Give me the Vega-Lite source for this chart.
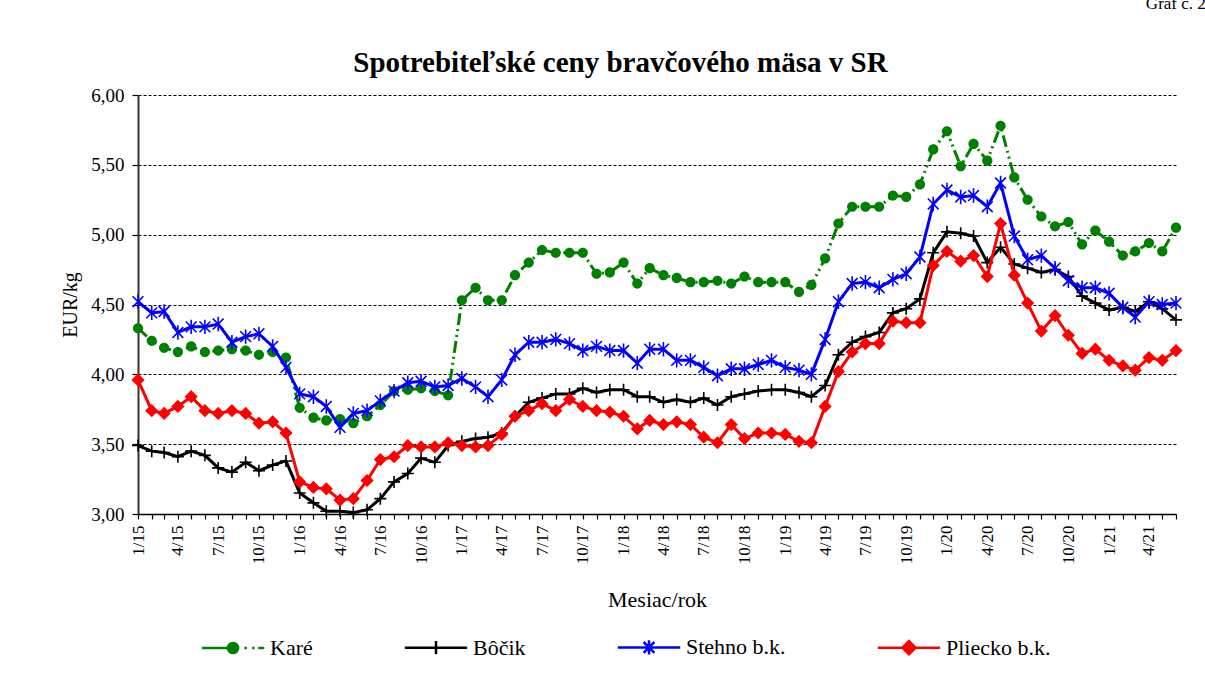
{
"$schema": "https://vega.github.io/schema/vega-lite/v6.json",
"width": 1038, "height": 419,
"autosize": {"type": "none"},
"padding": {"left": 138, "top": 95, "right": 29, "bottom": 168},
"background": "white",
"config": {"font": "Liberation Serif", "view": {"stroke": null}},
"data": {"values": [
{"d":"2015-01","s":"Karé","v":4.33},{"d":"2015-02","s":"Karé","v":4.24},{"d":"2015-03","s":"Karé","v":4.19},{"d":"2015-04","s":"Karé","v":4.16},{"d":"2015-05","s":"Karé","v":4.20},{"d":"2015-06","s":"Karé","v":4.16},{"d":"2015-07","s":"Karé","v":4.17},{"d":"2015-08","s":"Karé","v":4.18},{"d":"2015-09","s":"Karé","v":4.17},{"d":"2015-10","s":"Karé","v":4.14},{"d":"2015-11","s":"Karé","v":4.16},{"d":"2015-12","s":"Karé","v":4.12},
{"d":"2016-01","s":"Karé","v":3.76},{"d":"2016-02","s":"Karé","v":3.69},{"d":"2016-03","s":"Karé","v":3.67},{"d":"2016-04","s":"Karé","v":3.68},{"d":"2016-05","s":"Karé","v":3.65},{"d":"2016-06","s":"Karé","v":3.70},{"d":"2016-07","s":"Karé","v":3.78},{"d":"2016-08","s":"Karé","v":3.88},{"d":"2016-09","s":"Karé","v":3.89},{"d":"2016-10","s":"Karé","v":3.90},{"d":"2016-11","s":"Karé","v":3.88},{"d":"2016-12","s":"Karé","v":3.85},
{"d":"2017-01","s":"Karé","v":4.53},{"d":"2017-02","s":"Karé","v":4.62},{"d":"2017-03","s":"Karé","v":4.53},{"d":"2017-04","s":"Karé","v":4.53},{"d":"2017-05","s":"Karé","v":4.71},{"d":"2017-06","s":"Karé","v":4.80},{"d":"2017-07","s":"Karé","v":4.89},{"d":"2017-08","s":"Karé","v":4.87},{"d":"2017-09","s":"Karé","v":4.87},{"d":"2017-10","s":"Karé","v":4.87},{"d":"2017-11","s":"Karé","v":4.72},{"d":"2017-12","s":"Karé","v":4.73},
{"d":"2018-01","s":"Karé","v":4.80},{"d":"2018-02","s":"Karé","v":4.65},{"d":"2018-03","s":"Karé","v":4.76},{"d":"2018-04","s":"Karé","v":4.71},{"d":"2018-05","s":"Karé","v":4.69},{"d":"2018-06","s":"Karé","v":4.66},{"d":"2018-07","s":"Karé","v":4.66},{"d":"2018-08","s":"Karé","v":4.67},{"d":"2018-09","s":"Karé","v":4.65},{"d":"2018-10","s":"Karé","v":4.70},{"d":"2018-11","s":"Karé","v":4.66},{"d":"2018-12","s":"Karé","v":4.66},
{"d":"2019-01","s":"Karé","v":4.66},{"d":"2019-02","s":"Karé","v":4.59},{"d":"2019-03","s":"Karé","v":4.64},{"d":"2019-04","s":"Karé","v":4.83},{"d":"2019-05","s":"Karé","v":5.08},{"d":"2019-06","s":"Karé","v":5.20},{"d":"2019-07","s":"Karé","v":5.20},{"d":"2019-08","s":"Karé","v":5.20},{"d":"2019-09","s":"Karé","v":5.28},{"d":"2019-10","s":"Karé","v":5.27},{"d":"2019-11","s":"Karé","v":5.36},{"d":"2019-12","s":"Karé","v":5.61},
{"d":"2020-01","s":"Karé","v":5.74},{"d":"2020-02","s":"Karé","v":5.49},{"d":"2020-03","s":"Karé","v":5.65},{"d":"2020-04","s":"Karé","v":5.53},{"d":"2020-05","s":"Karé","v":5.78},{"d":"2020-06","s":"Karé","v":5.41},{"d":"2020-07","s":"Karé","v":5.25},{"d":"2020-08","s":"Karé","v":5.13},{"d":"2020-09","s":"Karé","v":5.06},{"d":"2020-10","s":"Karé","v":5.09},{"d":"2020-11","s":"Karé","v":4.93},{"d":"2020-12","s":"Karé","v":5.03},
{"d":"2021-01","s":"Karé","v":4.95},{"d":"2021-02","s":"Karé","v":4.85},{"d":"2021-03","s":"Karé","v":4.88},{"d":"2021-04","s":"Karé","v":4.94},{"d":"2021-05","s":"Karé","v":4.88},{"d":"2021-06","s":"Karé","v":5.05},
{"d":"2015-01","s":"Bôčik","v":3.49},{"d":"2015-02","s":"Bôčik","v":3.45},{"d":"2015-03","s":"Bôčik","v":3.44},{"d":"2015-04","s":"Bôčik","v":3.41},{"d":"2015-05","s":"Bôčik","v":3.45},{"d":"2015-06","s":"Bôčik","v":3.42},{"d":"2015-07","s":"Bôčik","v":3.33},{"d":"2015-08","s":"Bôčik","v":3.30},{"d":"2015-09","s":"Bôčik","v":3.37},{"d":"2015-10","s":"Bôčik","v":3.31},{"d":"2015-11","s":"Bôčik","v":3.35},{"d":"2015-12","s":"Bôčik","v":3.38},
{"d":"2016-01","s":"Bôčik","v":3.15},{"d":"2016-02","s":"Bôčik","v":3.08},{"d":"2016-03","s":"Bôčik","v":3.02},{"d":"2016-04","s":"Bôčik","v":3.02},{"d":"2016-05","s":"Bôčik","v":3.01},{"d":"2016-06","s":"Bôčik","v":3.03},{"d":"2016-07","s":"Bôčik","v":3.11},{"d":"2016-08","s":"Bôčik","v":3.23},{"d":"2016-09","s":"Bôčik","v":3.29},{"d":"2016-10","s":"Bôčik","v":3.40},{"d":"2016-11","s":"Bôčik","v":3.37},{"d":"2016-12","s":"Bôčik","v":3.49},
{"d":"2017-01","s":"Bôčik","v":3.52},{"d":"2017-02","s":"Bôčik","v":3.54},{"d":"2017-03","s":"Bôčik","v":3.55},{"d":"2017-04","s":"Bôčik","v":3.58},{"d":"2017-05","s":"Bôčik","v":3.70},{"d":"2017-06","s":"Bôčik","v":3.80},{"d":"2017-07","s":"Bôčik","v":3.83},{"d":"2017-08","s":"Bôčik","v":3.86},{"d":"2017-09","s":"Bôčik","v":3.86},{"d":"2017-10","s":"Bôčik","v":3.90},{"d":"2017-11","s":"Bôčik","v":3.87},{"d":"2017-12","s":"Bôčik","v":3.89},
{"d":"2018-01","s":"Bôčik","v":3.89},{"d":"2018-02","s":"Bôčik","v":3.84},{"d":"2018-03","s":"Bôčik","v":3.84},{"d":"2018-04","s":"Bôčik","v":3.80},{"d":"2018-05","s":"Bôčik","v":3.82},{"d":"2018-06","s":"Bôčik","v":3.80},{"d":"2018-07","s":"Bôčik","v":3.83},{"d":"2018-08","s":"Bôčik","v":3.78},{"d":"2018-09","s":"Bôčik","v":3.84},{"d":"2018-10","s":"Bôčik","v":3.86},{"d":"2018-11","s":"Bôčik","v":3.88},{"d":"2018-12","s":"Bôčik","v":3.89},
{"d":"2019-01","s":"Bôčik","v":3.89},{"d":"2019-02","s":"Bôčik","v":3.87},{"d":"2019-03","s":"Bôčik","v":3.84},{"d":"2019-04","s":"Bôčik","v":3.92},{"d":"2019-05","s":"Bôčik","v":4.14},{"d":"2019-06","s":"Bôčik","v":4.23},{"d":"2019-07","s":"Bôčik","v":4.27},{"d":"2019-08","s":"Bôčik","v":4.30},{"d":"2019-09","s":"Bôčik","v":4.44},{"d":"2019-10","s":"Bôčik","v":4.47},{"d":"2019-11","s":"Bôčik","v":4.54},{"d":"2019-12","s":"Bôčik","v":4.87},
{"d":"2020-01","s":"Bôčik","v":5.02},{"d":"2020-02","s":"Bôčik","v":5.01},{"d":"2020-03","s":"Bôčik","v":4.99},{"d":"2020-04","s":"Bôčik","v":4.80},{"d":"2020-05","s":"Bôčik","v":4.91},{"d":"2020-06","s":"Bôčik","v":4.79},{"d":"2020-07","s":"Bôčik","v":4.76},{"d":"2020-08","s":"Bôčik","v":4.73},{"d":"2020-09","s":"Bôčik","v":4.75},{"d":"2020-10","s":"Bôčik","v":4.70},{"d":"2020-11","s":"Bôčik","v":4.56},{"d":"2020-12","s":"Bôčik","v":4.51},
{"d":"2021-01","s":"Bôčik","v":4.46},{"d":"2021-02","s":"Bôčik","v":4.48},{"d":"2021-03","s":"Bôčik","v":4.45},{"d":"2021-04","s":"Bôčik","v":4.52},{"d":"2021-05","s":"Bôčik","v":4.47},{"d":"2021-06","s":"Bôčik","v":4.39},
{"d":"2015-01","s":"Stehno b.k.","v":4.52},{"d":"2015-02","s":"Stehno b.k.","v":4.44},{"d":"2015-03","s":"Stehno b.k.","v":4.45},{"d":"2015-04","s":"Stehno b.k.","v":4.30},{"d":"2015-05","s":"Stehno b.k.","v":4.34},{"d":"2015-06","s":"Stehno b.k.","v":4.34},{"d":"2015-07","s":"Stehno b.k.","v":4.36},{"d":"2015-08","s":"Stehno b.k.","v":4.23},{"d":"2015-09","s":"Stehno b.k.","v":4.27},{"d":"2015-10","s":"Stehno b.k.","v":4.29},{"d":"2015-11","s":"Stehno b.k.","v":4.20},{"d":"2015-12","s":"Stehno b.k.","v":4.05},
{"d":"2016-01","s":"Stehno b.k.","v":3.86},{"d":"2016-02","s":"Stehno b.k.","v":3.84},{"d":"2016-03","s":"Stehno b.k.","v":3.77},{"d":"2016-04","s":"Stehno b.k.","v":3.62},{"d":"2016-05","s":"Stehno b.k.","v":3.72},{"d":"2016-06","s":"Stehno b.k.","v":3.74},{"d":"2016-07","s":"Stehno b.k.","v":3.81},{"d":"2016-08","s":"Stehno b.k.","v":3.88},{"d":"2016-09","s":"Stehno b.k.","v":3.94},{"d":"2016-10","s":"Stehno b.k.","v":3.95},{"d":"2016-11","s":"Stehno b.k.","v":3.91},{"d":"2016-12","s":"Stehno b.k.","v":3.92},
{"d":"2017-01","s":"Stehno b.k.","v":3.97},{"d":"2017-02","s":"Stehno b.k.","v":3.91},{"d":"2017-03","s":"Stehno b.k.","v":3.84},{"d":"2017-04","s":"Stehno b.k.","v":3.96},{"d":"2017-05","s":"Stehno b.k.","v":4.14},{"d":"2017-06","s":"Stehno b.k.","v":4.23},{"d":"2017-07","s":"Stehno b.k.","v":4.23},{"d":"2017-08","s":"Stehno b.k.","v":4.25},{"d":"2017-09","s":"Stehno b.k.","v":4.22},{"d":"2017-10","s":"Stehno b.k.","v":4.17},{"d":"2017-11","s":"Stehno b.k.","v":4.20},{"d":"2017-12","s":"Stehno b.k.","v":4.17},
{"d":"2018-01","s":"Stehno b.k.","v":4.17},{"d":"2018-02","s":"Stehno b.k.","v":4.08},{"d":"2018-03","s":"Stehno b.k.","v":4.18},{"d":"2018-04","s":"Stehno b.k.","v":4.18},{"d":"2018-05","s":"Stehno b.k.","v":4.10},{"d":"2018-06","s":"Stehno b.k.","v":4.10},{"d":"2018-07","s":"Stehno b.k.","v":4.05},{"d":"2018-08","s":"Stehno b.k.","v":3.99},{"d":"2018-09","s":"Stehno b.k.","v":4.04},{"d":"2018-10","s":"Stehno b.k.","v":4.04},{"d":"2018-11","s":"Stehno b.k.","v":4.07},{"d":"2018-12","s":"Stehno b.k.","v":4.10},
{"d":"2019-01","s":"Stehno b.k.","v":4.05},{"d":"2019-02","s":"Stehno b.k.","v":4.03},{"d":"2019-03","s":"Stehno b.k.","v":4.00},{"d":"2019-04","s":"Stehno b.k.","v":4.25},{"d":"2019-05","s":"Stehno b.k.","v":4.52},{"d":"2019-06","s":"Stehno b.k.","v":4.65},{"d":"2019-07","s":"Stehno b.k.","v":4.66},{"d":"2019-08","s":"Stehno b.k.","v":4.62},{"d":"2019-09","s":"Stehno b.k.","v":4.68},{"d":"2019-10","s":"Stehno b.k.","v":4.72},{"d":"2019-11","s":"Stehno b.k.","v":4.84},{"d":"2019-12","s":"Stehno b.k.","v":5.22},
{"d":"2020-01","s":"Stehno b.k.","v":5.32},{"d":"2020-02","s":"Stehno b.k.","v":5.27},{"d":"2020-03","s":"Stehno b.k.","v":5.28},{"d":"2020-04","s":"Stehno b.k.","v":5.20},{"d":"2020-05","s":"Stehno b.k.","v":5.37},{"d":"2020-06","s":"Stehno b.k.","v":4.99},{"d":"2020-07","s":"Stehno b.k.","v":4.82},{"d":"2020-08","s":"Stehno b.k.","v":4.85},{"d":"2020-09","s":"Stehno b.k.","v":4.76},{"d":"2020-10","s":"Stehno b.k.","v":4.67},{"d":"2020-11","s":"Stehno b.k.","v":4.62},{"d":"2020-12","s":"Stehno b.k.","v":4.62},
{"d":"2021-01","s":"Stehno b.k.","v":4.58},{"d":"2021-02","s":"Stehno b.k.","v":4.48},{"d":"2021-03","s":"Stehno b.k.","v":4.41},{"d":"2021-04","s":"Stehno b.k.","v":4.52},{"d":"2021-05","s":"Stehno b.k.","v":4.50},{"d":"2021-06","s":"Stehno b.k.","v":4.51},
{"d":"2015-01","s":"Pliecko b.k.","v":3.96},{"d":"2015-02","s":"Pliecko b.k.","v":3.74},{"d":"2015-03","s":"Pliecko b.k.","v":3.72},{"d":"2015-04","s":"Pliecko b.k.","v":3.77},{"d":"2015-05","s":"Pliecko b.k.","v":3.84},{"d":"2015-06","s":"Pliecko b.k.","v":3.74},{"d":"2015-07","s":"Pliecko b.k.","v":3.72},{"d":"2015-08","s":"Pliecko b.k.","v":3.74},{"d":"2015-09","s":"Pliecko b.k.","v":3.72},{"d":"2015-10","s":"Pliecko b.k.","v":3.65},{"d":"2015-11","s":"Pliecko b.k.","v":3.66},{"d":"2015-12","s":"Pliecko b.k.","v":3.58},
{"d":"2016-01","s":"Pliecko b.k.","v":3.23},{"d":"2016-02","s":"Pliecko b.k.","v":3.19},{"d":"2016-03","s":"Pliecko b.k.","v":3.18},{"d":"2016-04","s":"Pliecko b.k.","v":3.10},{"d":"2016-05","s":"Pliecko b.k.","v":3.11},{"d":"2016-06","s":"Pliecko b.k.","v":3.24},{"d":"2016-07","s":"Pliecko b.k.","v":3.39},{"d":"2016-08","s":"Pliecko b.k.","v":3.41},{"d":"2016-09","s":"Pliecko b.k.","v":3.49},{"d":"2016-10","s":"Pliecko b.k.","v":3.48},{"d":"2016-11","s":"Pliecko b.k.","v":3.48},{"d":"2016-12","s":"Pliecko b.k.","v":3.51},
{"d":"2017-01","s":"Pliecko b.k.","v":3.49},{"d":"2017-02","s":"Pliecko b.k.","v":3.48},{"d":"2017-03","s":"Pliecko b.k.","v":3.49},{"d":"2017-04","s":"Pliecko b.k.","v":3.57},{"d":"2017-05","s":"Pliecko b.k.","v":3.70},{"d":"2017-06","s":"Pliecko b.k.","v":3.74},{"d":"2017-07","s":"Pliecko b.k.","v":3.79},{"d":"2017-08","s":"Pliecko b.k.","v":3.74},{"d":"2017-09","s":"Pliecko b.k.","v":3.82},{"d":"2017-10","s":"Pliecko b.k.","v":3.77},{"d":"2017-11","s":"Pliecko b.k.","v":3.74},{"d":"2017-12","s":"Pliecko b.k.","v":3.73},
{"d":"2018-01","s":"Pliecko b.k.","v":3.70},{"d":"2018-02","s":"Pliecko b.k.","v":3.61},{"d":"2018-03","s":"Pliecko b.k.","v":3.67},{"d":"2018-04","s":"Pliecko b.k.","v":3.64},{"d":"2018-05","s":"Pliecko b.k.","v":3.66},{"d":"2018-06","s":"Pliecko b.k.","v":3.64},{"d":"2018-07","s":"Pliecko b.k.","v":3.55},{"d":"2018-08","s":"Pliecko b.k.","v":3.51},{"d":"2018-09","s":"Pliecko b.k.","v":3.64},{"d":"2018-10","s":"Pliecko b.k.","v":3.54},{"d":"2018-11","s":"Pliecko b.k.","v":3.58},{"d":"2018-12","s":"Pliecko b.k.","v":3.58},
{"d":"2019-01","s":"Pliecko b.k.","v":3.57},{"d":"2019-02","s":"Pliecko b.k.","v":3.52},{"d":"2019-03","s":"Pliecko b.k.","v":3.51},{"d":"2019-04","s":"Pliecko b.k.","v":3.77},{"d":"2019-05","s":"Pliecko b.k.","v":4.02},{"d":"2019-06","s":"Pliecko b.k.","v":4.16},{"d":"2019-07","s":"Pliecko b.k.","v":4.22},{"d":"2019-08","s":"Pliecko b.k.","v":4.22},{"d":"2019-09","s":"Pliecko b.k.","v":4.38},{"d":"2019-10","s":"Pliecko b.k.","v":4.37},{"d":"2019-11","s":"Pliecko b.k.","v":4.37},{"d":"2019-12","s":"Pliecko b.k.","v":4.78},
{"d":"2020-01","s":"Pliecko b.k.","v":4.88},{"d":"2020-02","s":"Pliecko b.k.","v":4.81},{"d":"2020-03","s":"Pliecko b.k.","v":4.85},{"d":"2020-04","s":"Pliecko b.k.","v":4.70},{"d":"2020-05","s":"Pliecko b.k.","v":5.08},{"d":"2020-06","s":"Pliecko b.k.","v":4.71},{"d":"2020-07","s":"Pliecko b.k.","v":4.51},{"d":"2020-08","s":"Pliecko b.k.","v":4.31},{"d":"2020-09","s":"Pliecko b.k.","v":4.42},{"d":"2020-10","s":"Pliecko b.k.","v":4.28},{"d":"2020-11","s":"Pliecko b.k.","v":4.15},{"d":"2020-12","s":"Pliecko b.k.","v":4.18},
{"d":"2021-01","s":"Pliecko b.k.","v":4.10},{"d":"2021-02","s":"Pliecko b.k.","v":4.06},{"d":"2021-03","s":"Pliecko b.k.","v":4.03},{"d":"2021-04","s":"Pliecko b.k.","v":4.12},{"d":"2021-05","s":"Pliecko b.k.","v":4.10},{"d":"2021-06","s":"Pliecko b.k.","v":4.17}
]},
"layer": [
{"transform": [{"filter": "datum.s == 'Karé'"}],
 "mark": {"type": "line", "strokeWidth": 3, "strokeDash": [12, 4, 2, 4, 2, 4]},
 "encoding": {
  "x": {"field": "d", "type": "temporal", "scale": {"type": "utc", "nice": false},
        "axis": {"title": "Mesiac/rok", "titleFontSize": 22, "titleFontWeight": "normal", "titleColor": "black", "titlePadding": 26,
                 "labelAngle": 270, "labelFontSize": 17, "labelColor": "black", "labelPadding": 6, "labelOverlap": false, "labelFlush": false, "labelBound": false,
                 "labelExpr": "utcmonth(datum.value) % 3 == 0 ? utcFormat(datum.value, '%-m/%y') : ''",
                 "tickCount": {"interval": "month", "step": 1}, "tickSize": 5, "tickColor": "black", "tickWidth": 1.2,
                 "domainColor": "black", "domainWidth": 1.5, "grid": false}},
  "y": {"field": "v", "type": "quantitative", "scale": {"domain": [3, 6], "nice": false, "zero": false},
        "axis": {"title": "EUR/kg", "titleFontSize": 20, "titleFontWeight": "normal", "titleColor": "black", "titlePadding": 10,
                 "values": [3, 3.5, 4, 4.5, 5, 5.5, 6], "labelExpr": "replace(format(datum.value, '.2f'), '.', ',')",
                 "labelFontSize": 19, "labelColor": "black", "labelPadding": 8,
                 "tickSize": 6, "tickColor": "black", "tickWidth": 1.2, "domainColor": "#333333", "domainWidth": 2,
                 "grid": true, "gridDash": [3, 2], "gridColor": "black", "gridOpacity": 1, "gridWidth": 1}},
  "color": {"field": "s", "type": "nominal", "scale": {"domain": ["Karé", "Bôčik", "Stehno b.k.", "Pliecko b.k."], "range": ["#008000", "#000000", "#0000FF", "#FF0000"]},
    "legend": {"title": null, "orient": "none", "legendX": 84, "legendY": 541, "direction": "horizontal", "columns": 4, "columnPadding": 86,
               "labelFont": "Liberation Serif", "labelFontSize": 22, "labelColor": "black", "symbolSize": 144, "symbolStrokeWidth": 2.5, "labelOffset": 26,
               "encode": {"symbols": {"update": {
                  "shape": {"signal": "datum.value == 'Karé' ? 'M-5.2,0L-1,0M1.9,0L2.3,0M3.2,0L3.6,0M4.2,0L5.2,0M-0.85,0A0.85,0.85 0 1,0 0.85,0A0.85,0.85 0 1,0 -0.85,0Z' : datum.value == 'Bôčik' ? 'M-5.2,0L5.2,0M0,-1.1L0,1.1' : datum.value == 'Stehno b.k.' ? 'M-5.2,0L5.2,0M-0.9,-0.9L0.9,0.9M-0.9,0.9L0.9,-0.9M0,-1.2L0,1.2' : 'M-5.2,0L5.2,0M-1.1,0L0,-1.1L1.1,0L0,1.1Z'"},
                  "stroke": {"signal": "datum.value == 'Karé' ? '#008000' : datum.value == 'Bôčik' ? '#000000' : datum.value == 'Stehno b.k.' ? '#0000FF' : '#FF0000'"},
                  "fill": {"signal": "datum.value == 'Karé' ? '#008000' : datum.value == 'Bôčik' ? '#000000' : datum.value == 'Stehno b.k.' ? '#0000FF' : '#FF0000'"},
                  "strokeDash": {"value": []},
                  "strokeWidth": {"value": 2.5}, "opacity": {"value": 1}}}}}}
 }},
{"transform": [{"filter": "datum.s == 'Karé'"}],
 "mark": {"type": "point", "filled": true, "opacity": 1, "size": 144},
 "encoding": {
  "x": {"field": "d", "type": "temporal"},
  "y": {"field": "v", "type": "quantitative"},
  "color": {"field": "s", "type": "nominal"},
  "shape": {"field": "s", "type": "nominal", "legend": null, "scale": {"domain": ["Bôčik", "Karé", "Pliecko b.k.", "Stehno b.k."],
    "range": ["M-1,0L1,0M0,-1L0,1", "M-0.85,0A0.85,0.85 0 1,0 0.85,0A0.85,0.85 0 1,0 -0.85,0Z", "M-1.1,0L0,-1.1L1.1,0L0,1.1Z", "M-0.9,-0.9L0.9,0.9M-0.9,0.9L0.9,-0.9M0,-1.2L0,1.2"]}}
 }},
{"transform": [{"filter": "datum.s == 'Bôčik' || datum.s == 'Stehno b.k.'"}],
 "mark": {"type": "line", "strokeWidth": 3},
 "encoding": {
  "x": {"field": "d", "type": "temporal"},
  "y": {"field": "v", "type": "quantitative"},
  "color": {"field": "s", "type": "nominal"}
 }},
{"transform": [{"filter": "datum.s == 'Bôčik' || datum.s == 'Stehno b.k.'"}],
 "mark": {"type": "point", "filled": false, "opacity": 1, "strokeWidth": 1.6, "size": 144},
 "encoding": {
  "x": {"field": "d", "type": "temporal"},
  "y": {"field": "v", "type": "quantitative"},
  "color": {"field": "s", "type": "nominal"},
  "shape": {"field": "s", "type": "nominal", "legend": null}
 }},
{"transform": [{"filter": "datum.s == 'Pliecko b.k.'"}],
 "mark": {"type": "line", "strokeWidth": 3},
 "encoding": {
  "x": {"field": "d", "type": "temporal"},
  "y": {"field": "v", "type": "quantitative"},
  "color": {"field": "s", "type": "nominal"}
 }},
{"transform": [{"filter": "datum.s == 'Pliecko b.k.'"}],
 "mark": {"type": "point", "filled": true, "opacity": 1, "size": 144},
 "encoding": {
  "x": {"field": "d", "type": "temporal"},
  "y": {"field": "v", "type": "quantitative"},
  "color": {"field": "s", "type": "nominal"},
  "shape": {"field": "s", "type": "nominal", "legend": null}
 }},
{"data": {"values": [{"t": "Spotrebiteľské ceny bravčového mäsa v SR"}]},
 "mark": {"type": "text", "align": "center", "baseline": "alphabetic", "fontSize": 29, "fontWeight": "bold", "font": "Liberation Serif", "color": "black"},
 "encoding": {
  "x": {"datum": {"year": 2017, "month": 12, "date": 25, "utc": true}, "type": "temporal"},
  "y": {"datum": 6.165, "type": "quantitative"},
  "text": {"field": "t"}
 }},
{"data": {"values": [{"t": "Graf č. 2"}]},
 "mark": {"type": "text", "align": "left", "baseline": "alphabetic", "fontSize": 17, "font": "Liberation Serif", "color": "black"},
 "encoding": {
  "x": {"datum": {"year": 2021, "month": 3, "date": 25, "utc": true}, "type": "temporal"},
  "y": {"datum": 6.615, "type": "quantitative"},
  "text": {"field": "t"}
 }}
]
}
